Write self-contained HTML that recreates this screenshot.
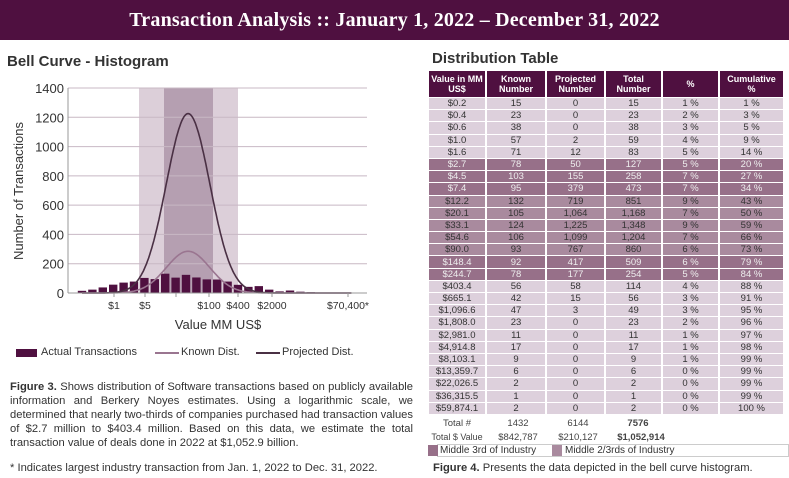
<!DOCTYPE html>
<html><head><meta charset="utf-8"><style>
body{margin:0;width:789px;height:478px;background:#fff;position:relative;overflow:hidden;font-family:"Liberation Sans",sans-serif;}
.hdr{position:absolute;left:0;top:0;width:789px;height:40px;background:#4f1040;color:#fff;font-family:"Liberation Serif",serif;font-weight:bold;font-size:20px;text-align:center;line-height:40px;letter-spacing:0.2px;}
.h2{position:absolute;font-weight:bold;font-size:15px;color:#333;}
table{position:absolute;left:427px;top:70px;border-collapse:separate;border-spacing:2px 1px;font-size:9.5px;color:#333;}
table td{text-align:center;height:11.2px;padding:0;line-height:11px;}
th{background:#4f1040;color:#fff;font-size:9px;line-height:10px;height:26px;padding:0;}
.l td{background:#ddd0dc;}
.d td{background:#977089;color:#eee;}
.m td{background:#a98a9e;}
.fig{position:absolute;font-size:11.2px;color:#333;line-height:14px;text-align:justify;}
</style></head><body>
<div class="hdr">Transaction Analysis :: January 1, 2022 – December 31, 2022</div>
<div class="h2" style="left:7px;top:53px">Bell Curve - Histogram</div>
<div class="h2" style="left:432px;top:50px">Distribution Table</div>
<svg id="c" width="420" height="340" style="position:absolute;left:0;top:0"></svg>
<table id="t">
<tr><th style="width:56px">Value in MM<br>US$</th><th style="width:58px">Known<br>Number</th><th style="width:57px">Projected<br>Number</th><th style="width:55px">Total<br>Number</th><th style="width:55px">%</th><th style="width:63px">Cumulative<br>%</th></tr>
</table>
<div style="position:absolute;left:428px;top:418px;width:330px;font-size:9.5px;color:#444">
<div style="position:absolute;left:0;top:0;width:58px;text-align:center">Total #</div>
<div style="position:absolute;left:60px;top:0;width:60px;text-align:center">1432</div>
<div style="position:absolute;left:120px;top:0;width:60px;text-align:center">6144</div>
<div style="position:absolute;left:180px;top:0;width:60px;text-align:center;font-weight:bold">7576</div>
<div style="position:absolute;left:0;top:14px;width:58px;text-align:center;font-size:9px">Total $ Value</div>
<div style="position:absolute;left:60px;top:14px;width:60px;text-align:center">$842,787</div>
<div style="position:absolute;left:120px;top:14px;width:60px;text-align:center">$210,127</div>
<div style="position:absolute;left:180px;top:14px;width:66px;text-align:center;font-weight:bold">$1,052,914</div>
</div>
<div style="position:absolute;left:437px;top:444px;width:350px;height:11px;border:1px solid #ccc;font-size:10px;line-height:11px;color:#333">
<span style="position:absolute;left:-10px;top:0;width:10px;height:11px;background:#977089"></span>
<span style="position:absolute;left:2px;top:0">Middle 3rd of Industry</span>
<span style="position:absolute;left:114px;top:0;width:10px;height:11px;background:#a98a9e"></span>
<span style="position:absolute;left:127px;top:0">Middle 2/3rds of Industry</span>
</div>
<div class="fig" style="left:433px;top:461px;width:355px"><b>Figure 4.</b> Presents the data depicted in the bell curve histogram.</div>
<div style="position:absolute;left:16px;top:349px;width:21px;height:8px;background:#4f1040"></div>
<div style="position:absolute;left:41px;top:346px;font-size:11px;color:#333">Actual Transactions</div>
<div style="position:absolute;left:155px;top:352px;width:24px;height:2px;background:#9a7590"></div>
<div style="position:absolute;left:181px;top:346px;font-size:11px;color:#333">Known Dist.</div>
<div style="position:absolute;left:256px;top:352px;width:24px;height:2px;background:#4a3044"></div>
<div style="position:absolute;left:282px;top:346px;font-size:11px;color:#333">Projected Dist.</div>
<div class="fig" style="left:10px;top:380px;width:403px"><b>Figure 3.</b> Shows distribution of Software transactions based on publicly available information and Berkery Noyes estimates. Using a logarithmic scale, we determined that nearly two-thirds of companies purchased had transaction values of $2.7 million to $403.4 million. Based on this data, we estimate the total transaction value of deals done in 2022 at $1,052.9 billion.</div>
<div class="fig" style="left:10px;top:461px;width:420px">* Indicates largest industry transaction from Jan. 1, 2022 to Dec. 31, 2022.</div>
<script>
var rows=[["$0.2",15,0,15,1,1],["$0.4",23,0,23,2,3],["$0.6",38,0,38,3,5],["$1.0",57,2,59,4,9],["$1.6",71,12,83,5,14],["$2.7",78,50,127,5,20],["$4.5",103,155,258,7,27],["$7.4",95,379,473,7,34],["$12.2",132,719,851,9,43],["$20.1",105,"1,064","1,168",7,50],["$33.1",124,"1,225","1,348",9,59],["$54.6",106,"1,099","1,204",7,66],["$90.0",93,767,860,6,73],["$148.4",92,417,509,6,79],["$244.7",78,177,254,5,84],["$403.4",56,58,114,4,88],["$665.1",42,15,56,3,91],["$1,096.6",47,3,49,3,95],["$1,808.0",23,0,23,2,96],["$2,981.0",11,0,11,1,97],["$4,914.8",17,0,17,1,98],["$8,103.1",9,0,9,1,99],["$13,359.7",6,0,6,0,99],["$22,026.5",2,0,2,0,99],["$36,315.5",1,0,1,0,99],["$59,874.1",2,0,2,0,100]];
var t=document.getElementById('t'),h='';
rows.forEach(function(r,i){var c=(i>=5&&i<=7)||(i>=13&&i<=14)?'d':(i>=8&&i<=12?'m':'l');
h+='<tr class="'+c+'"><td>'+r[0]+'</td><td>'+r[1]+'</td><td>'+r[2]+'</td><td>'+r[3]+'</td><td>'+r[4]+' %</td><td>'+r[5]+' %</td></tr>';});
t.insertAdjacentHTML('beforeend',h);
var s='',x0=68,x1=367,y0=293,k=205/1400;
s+='<rect x="139" y="88" width="99" height="205" fill="#dccfd9"/><rect x="164" y="88" width="49" height="205" fill="#b59fb1"/>';
for(var v=0;v<=1400;v+=200){var y=y0-v*k;s+='<line x1="'+x0+'" x2="'+x1+'" y1="'+y+'" y2="'+y+'" stroke="#c8b8c4" stroke-width="1"/><text x="64" y="'+(y+5)+'" text-anchor="end" font-size="13" fill="#333">'+v+'</text>';}
s+='<line x1="'+x0+'" x2="'+x0+'" y1="88" y2="293" stroke="#999"/>';
rows.forEach(function(r,i){var cx=82+i*10.4,hh=r[1]*k;s+='<rect x="'+(cx-4.2)+'" y="'+(y0-hh)+'" width="8.4" height="'+hh+'" fill="#4f1040"/>';});
function curve(pk,col){var p='';for(var i=0;i<=26;i+=0.1){var v=pk*Math.exp(-Math.pow(i-10.2,2)/(2*2.1*2.1));p+=(p?'L':'M')+(82+i*10.4).toFixed(1)+' '+(y0-v*k).toFixed(1);}return '<path d="'+p+'" fill="none" stroke="'+col+'" stroke-width="1.6"/>';}
s+=curve(285,'#9a7590')+curve(1225,'#4a3044');
s+='<line x1="'+x0+'" x2="'+x1+'" y1="293" y2="293" stroke="#999"/>';
[[114,'$1'],[145,'$5'],[176,''],[209,'$100'],[238,'$400'],[272,'$2000'],[348,'$70,400*']].forEach(function(a){s+='<line x1="'+a[0]+'" x2="'+a[0]+'" y1="293" y2="297" stroke="#999"/><text x="'+a[0]+'" y="309" text-anchor="middle" font-size="10.5" fill="#333">'+a[1]+'</text>';});
s+='<text x="218" y="329" text-anchor="middle" font-size="13" fill="#333">Value MM US$</text>';
s+='<text transform="translate(23,191) rotate(-90)" text-anchor="middle" font-size="13" fill="#333">Number of Transactions</text>';
document.getElementById('c').innerHTML=s;
</script>
</body></html>
